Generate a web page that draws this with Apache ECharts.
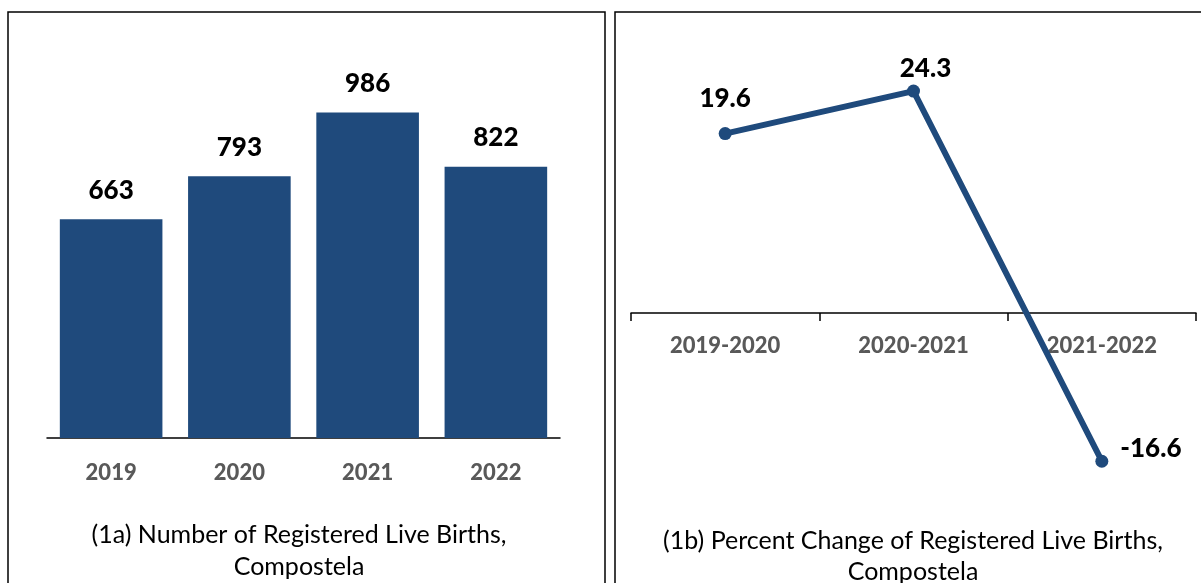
<!DOCTYPE html>
<html><head><meta charset="utf-8">
<script src="https://cdn.jsdelivr.net/npm/echarts@6/dist/echarts.min.js"></script>
<style>html,body{margin:0;padding:0;background:#fff}#c{width:1201px;height:583px}</style>
</head><body><div id="c"></div>
<script>
const years = ['2019', '2020', '2021', '2022'];
const births = [663, 793, 986, 822];
const periods = ['2019-2020', '2020-2021', '2021-2022'];
const pctChange = [19.6, 24.3, -16.6];
const titleA = '(1a) Number of Registered Live Births,\nCompostela';
const titleB = '(1b) Percent Change of Registered Live Births,\nCompostela';

const BLUE = '#1F4A7C';
const FONT = 'Lato, "Open Sans", sans-serif';
const chart = echarts.init(document.getElementById('c'));
const lineLabels = [
  {position: 'top', distance: 16, offset: [0, 0]},
  {position: 'top', distance: 3, offset: [12, 0]},
  {position: 'right', distance: 12, offset: [0, -13]}
];
chart.setOption({
  animation: false,
  textStyle: {fontFamily: FONT},
  graphic: [
    {type: 'rect', shape: {x: 8, y: 12, width: 597, height: 590}, style: {fill: 'none', stroke: '#000', lineWidth: 1.5}},
    {type: 'rect', shape: {x: 615, y: 12, width: 600, height: 590}, style: {fill: 'none', stroke: '#000', lineWidth: 1.5}}
  ],
  title: [
    {text: titleA, left: 294, top: 514, textAlign: 'center',
     textStyle: {fontFamily: FONT, fontSize: 25, fontWeight: 'normal', color: '#000', lineHeight: 32, align: 'center'}},
    {text: titleB, left: 908, top: 520, textAlign: 'center',
     textStyle: {fontFamily: FONT, fontSize: 25, fontWeight: 'normal', color: '#000', lineHeight: 31, align: 'center'}}
  ],
  grid: [
    {left: 47, right: 641, top: 42, bottom: 145},
    {left: 631, right: 5, top: 39.5, bottom: 91}
  ],
  xAxis: [
    {type: 'category', gridIndex: 0, data: years,
     axisLine: {lineStyle: {color: '#000', width: 1.5}}, axisTick: {show: false},
     axisLabel: {color: '#595959', fontWeight: 900, fontSize: 22, margin: 24, fontFamily: FONT}},
    {type: 'category', gridIndex: 1, data: periods, position: 'bottom', offset: -179,
     axisLine: {onZero: false, lineStyle: {color: '#000', width: 1.5}},
     axisTick: {show: true, length: 8, lineStyle: {color: '#000', width: 1.5}},
     axisLabel: {color: '#595959', fontWeight: 900, fontSize: 22, margin: 22, fontFamily: FONT}}
  ],
  yAxis: [
    {type: 'value', gridIndex: 0, min: 0, max: 1200, show: false, splitLine: {show: false}},
    {type: 'value', gridIndex: 1, min: -20, max: 30, show: false, splitLine: {show: false}}
  ],
  series: [
    {type: 'bar', xAxisIndex: 0, yAxisIndex: 0, data: births, barCategoryGap: '20%',
     itemStyle: {color: BLUE},
     label: {show: true, position: 'top', distance: 16, color: '#000', fontWeight: 900, fontSize: 26, fontFamily: FONT}},
    {type: 'line', xAxisIndex: 1, yAxisIndex: 1,
     data: pctChange.map((v, i) => ({value: v, label: lineLabels[i]})),
     lineStyle: {color: BLUE, width: 6}, itemStyle: {color: BLUE},
     symbol: 'circle', symbolSize: 13,
     label: {show: true, color: '#000', fontWeight: 900, fontSize: 26, fontFamily: FONT}}
  ]
});
</script></body></html>
